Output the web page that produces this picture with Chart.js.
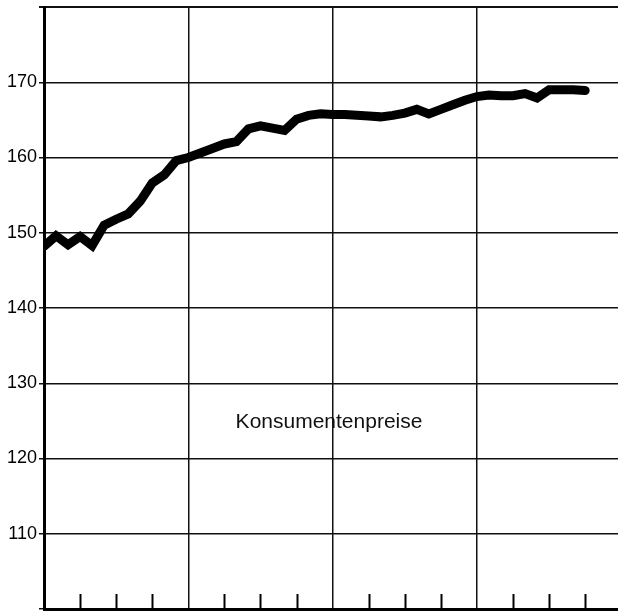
<!DOCTYPE html>
<html>
<head>
<meta charset="utf-8">
<script src="https://cdn.jsdelivr.net/npm/chart.js@4/dist/chart.umd.min.js"></script>
<style>
  html, body { margin: 0; padding: 0; background: #fff; }
  #wrap { width: 618px; height: 612px; }
</style>
</head>
<body>
<div id="wrap"><canvas id="c" width="618" height="612"></canvas></div>
<script>
// Months since start of the series (monthly observations)
const months = [0,1,2,3,4,5,6,7,8,9,10,11,12,13,14,15,16,17,18,19,20,21,22,23,24,25,26,27,28,29,30,31,32,33,34,35,36,37,38,39,40,41,42,43,44,45];
// Konsumentenpreise (index values)
const prices = [148.2,149.6,148.4,149.5,148.3,151.0,151.8,152.5,154.2,156.6,157.7,159.6,
                160.0,160.6,161.2,161.8,162.1,163.8,164.2,163.9,163.6,165.1,165.6,165.8,
                165.7,165.7,165.6,165.5,165.4,165.6,165.9,166.4,165.8,166.4,167.0,167.6,
                168.1,168.3,168.2,168.2,168.5,167.9,169.0,169.0,169.0,168.9];
// Axis marks
const yTickLabels = [110,120,130,140,150,160,170];
const yearGrid = [0,12,24,36];
const quarterTicks = [3,6,9,15,18,21,27,30,33,39,42,45];
const seriesLabel = 'Konsumentenpreise';
const labelPos = {x: 23.7, y: 124.8};

const FONT = '"Liberation Sans", Arial, Helvetica, sans-serif';

const innerTicks = {
  id: 'innerTicks',
  afterDatasetsDraw(chart) {
    const {ctx, scales: {x, y}} = chart;
    ctx.save();
    ctx.strokeStyle = '#000';
    ctx.lineWidth = 2;
    const bottom = y.getPixelForValue(100);
    quarterTicks.forEach(v => {
      const px = Math.round(x.getPixelForValue(v)) + 0.5;
      ctx.beginPath();
      ctx.moveTo(px, bottom);
      ctx.lineTo(px, bottom - 15);
      ctx.stroke();
    });
    ctx.fillStyle = '#111';
    ctx.font = '21px ' + FONT;
    ctx.textAlign = 'center';
    ctx.textBaseline = 'middle';
    ctx.fillText(seriesLabel, x.getPixelForValue(labelPos.x), y.getPixelForValue(labelPos.y));
    ctx.restore();
  }
};

new Chart(document.getElementById('c'), {
  type: 'line',
  data: {
    datasets: [{
      label: seriesLabel,
      data: months.map((m, i) => ({x: m, y: prices[i]})),
      borderColor: '#000',
      borderWidth: 9,
      borderJoinStyle: 'miter',
      borderCapStyle: 'round',
      pointRadius: 0,
      tension: 0,
      fill: false
    }]
  },
  options: {
    responsive: false,
    animation: false,
    devicePixelRatio: 1,
    layout: { padding: { top: 7, right: 0, bottom: 0, left: 0 } },
    plugins: { legend: { display: false }, tooltip: { enabled: false }, title: { display: false } },
    scales: {
      x: {
        type: 'linear',
        min: 0,
        max: 47.73,
        afterBuildTicks: s => { s.ticks = yearGrid.map(v => ({value: v})); },
        afterFit: s => { s.height = 3; s.paddingLeft = 0; s.paddingRight = 0; },
        ticks: { display: false },
        grid: { color: '#111', lineWidth: 1.5, drawTicks: false },
        border: { display: true, color: '#000', width: 3 }
      },
      y: {
        type: 'linear',
        min: 100,
        max: 180,
        afterBuildTicks: s => { s.ticks = [100].concat(yTickLabels, [180]).map(v => ({value: v})); },
        afterFit: s => { s.width = 44; s.paddingTop = 0; s.paddingBottom = 0; },
        ticks: {
          color: '#000',
          font: { family: FONT, size: 18 },
          padding: 2,
          callback: v => (yTickLabels.includes(v) ? String(v) : '')
        },
        grid: {
          color: '#111',
          lineWidth: c => (c.tick && c.tick.value === 180 ? 2 : 1.5),
          tickLength: 5
        },
        border: { display: true, color: '#000', width: 3 }
      }
    }
  },
  plugins: [innerTicks]
});
</script>
</body>
</html>
